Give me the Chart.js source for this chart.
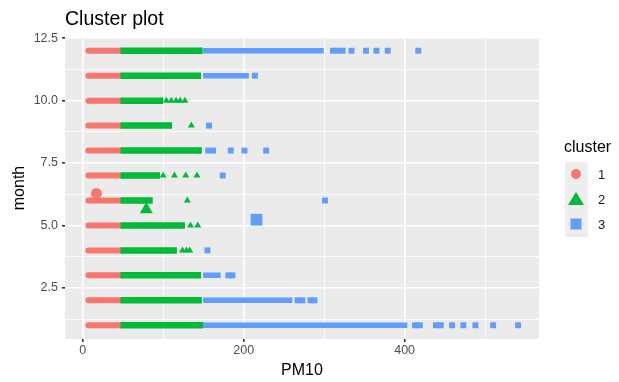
<!DOCTYPE html>
<html>
<head>
<meta charset="utf-8">
<title>Cluster plot</title>
<script src="https://cdn.jsdelivr.net/npm/chart.js@4/dist/chart.umd.min.js"></script>
<style>
  html, body { margin: 0; padding: 0; background: #ffffff; }
  #wrap { width: 619px; height: 382px; }
</style>
</head>
<body>
<div id="wrap"><canvas id="clusterChart" width="619" height="382"></canvas></div>
<script>
// values (PM10 per month)
const months     = [1, 2, 3, 4, 5, 6, 7, 8, 9, 10, 11, 12];
const redStart   = [7, 7, 7, 7, 7, 7, 7, 7, 7, 7, 7, 7];
const redEnd     = [46, 46, 46, 46, 46, 46, 46, 46, 46, 46, 46, 46];
const greenStart = [51, 51, 51, 51, 51, 51, 51, 51, 51, 51, 51, 51];
const greenEnd   = [146, 144, 143, 113, 123, 83, 92, 144, 107, 96, 143, 145];
const blueStart  = [153, 153, 153, null, null, null, null, null, null, null, 153, 153];
const blueEnd    = [400, 257, 168, null, null, null, null, null, null, null, 203, 296];
const greenOutliers = [
  [], [], [], [124, 129, 133], [134, 143], [130], [100, 114, 128, 142],
  [], [135], [104, 110, 116, 121, 127], [], []
];
const blueOutliers = [
  [413, 419, 439, 445, 459, 473, 488, 510, 541],
  [267, 273, 283, 288],
  [181, 186],
  [155],
  [],
  [301],
  [174],
  [156, 162, 184, 201, 228],
  [157],
  [],
  [214],
  [311, 317, 323, 334, 352, 365, 379, 417]
];
const centroidPM10  = [17, 79, 216];
const centroidMonth = [6.28, 5.64, 5.23];
const clusterNames  = ['1', '2', '3'];
const xTicks = [0, 100, 200, 300, 400, 500];
const yTicks = [1.25, 2.5, 3.75, 5, 6.25, 7.5, 8.75, 10, 11.25, 12.5];

const RED = '#F8766D', GREEN = '#00BA38', BLUE = '#619CFF';
const FONT = '"Liberation Sans", Arial, sans-serif';

function runData(starts, ends) {
  const pts = [];
  months.forEach(function(m, i) {
    if (starts[i] == null) return;
    pts.push({x: starts[i], y: m}, {x: ends[i], y: m}, {x: null, y: null});
  });
  return pts;
}

function pointData(lists) {
  const pts = [];
  months.forEach(function(m, i) {
    lists[i].forEach(function(v) { pts.push({x: v, y: m}); });
  });
  return pts;
}

const isMajorX = v => v % 200 === 0;
const isMajorY = v => Math.abs(v / 2.5 - Math.round(v / 2.5)) < 1e-9;

// grey panel behind the grid
const panelBg = {
  id: 'panelBg',
  beforeDraw(chart) {
    const a = chart.chartArea, ctx = chart.ctx;
    ctx.save();
    ctx.fillStyle = '#EBEBEB';
    ctx.fillRect(a.left, a.top, a.right - a.left, a.bottom - a.top);
    ctx.restore();
  }
};

// ggplot style title and legend
const ggExtras = {
  id: 'ggExtras',
  afterDraw(chart) {
    const ctx = chart.ctx;
    ctx.save();
    ctx.fillStyle = '#000000';
    ctx.textBaseline = 'alphabetic';
    ctx.textAlign = 'left';
    ctx.font = '19.5px ' + FONT;
    ctx.fillText('Cluster plot', 65, 25);

    ctx.font = '16px ' + FONT;
    ctx.fillText('cluster', 564, 152);

    const colors = [RED, GREEN, BLUE];
    const kx = 576, rows = [174, 199, 224];
    ctx.fillStyle = '#EDEDED';
    ctx.fillRect(565, 162, 23, 75);
    rows.forEach(function(y, i) {
      ctx.fillStyle = colors[i];
      ctx.beginPath();
      if (i === 0) {
        ctx.arc(kx, y, 5, 0, Math.PI * 2);
      } else if (i === 1) {
        ctx.moveTo(kx, y - 7);
        ctx.lineTo(kx + 8, y + 6);
        ctx.lineTo(kx - 8, y + 6);
        ctx.closePath();
      } else {
        ctx.rect(kx - 5.5, y - 5.5, 11, 11);
      }
      ctx.fill();
      ctx.fillStyle = '#1A1A1A';
      ctx.font = '13px ' + FONT;
      ctx.textBaseline = 'middle';
      ctx.fillText(clusterNames[i], 598, y + 1);
    });
    ctx.restore();
  }
};

const ctx = document.getElementById('clusterChart').getContext('2d');

const chart = new Chart(ctx, {
  type: 'scatter',
  data: {
    datasets: [
      { label: 'c1 run', data: runData(redStart, redEnd), showLine: true, spanGaps: false,
        borderColor: RED, borderWidth: 6, borderCapStyle: 'round', pointRadius: 0, order: 6 },
      { label: 'c2 run', data: runData(greenStart, greenEnd), showLine: true, spanGaps: false,
        borderColor: GREEN, borderWidth: 6.5, borderCapStyle: 'square', pointRadius: 0, order: 5 },
      { label: 'c3 run', data: runData(blueStart, blueEnd), showLine: true, spanGaps: false,
        borderColor: BLUE, borderWidth: 5.5, borderCapStyle: 'square', pointRadius: 0, order: 4 },
      { label: 'c2 points', data: pointData(greenOutliers), pointStyle: 'triangle',
        pointRadius: 4, backgroundColor: GREEN, borderWidth: 0, order: 3 },
      { label: 'c3 points', data: pointData(blueOutliers), pointStyle: 'rect',
        pointRadius: 4.2, backgroundColor: BLUE, borderWidth: 0, order: 2 },
      { label: 'centre 1', data: [{x: centroidPM10[0], y: centroidMonth[0]}], pointStyle: 'circle',
        pointRadius: 5.5, backgroundColor: RED, borderWidth: 0, order: 0 },
      { label: 'centre 2', data: [{x: centroidPM10[1], y: centroidMonth[1]}], pointStyle: 'triangle',
        pointRadius: 7.5, backgroundColor: GREEN, borderWidth: 0, order: 0 },
      { label: 'centre 3', data: [{x: centroidPM10[2], y: centroidMonth[2]}], pointStyle: 'rect',
        pointRadius: 8.3, backgroundColor: BLUE, borderWidth: 0, order: 0 }
    ]
  },
  options: {
    responsive: false,
    animation: false,
    events: [],
    layout: { padding: { top: 37, right: 80, left: 0, bottom: 0 } },
    plugins: {
      legend: { display: false },
      tooltip: { enabled: false },
      title: { display: false }
    },
    scales: {
      x: {
        type: 'linear',
        min: -22,
        max: 567,
        afterBuildTicks: s => { s.ticks = xTicks.map(v => ({value: v})); },
        afterFit: s => { s.height = 43; },
        ticks: {
          autoSkip: false,
          maxRotation: 0,
          padding: 1,
          color: '#4D4D4D',
          font: { family: FONT, size: 12.5 },
          callback: v => isMajorX(v) ? String(v) : ''
        },
        grid: {
          color: '#FFFFFF',
          lineWidth: c => isMajorX(c.tick.value) ? 1.6 : 0.8,
          tickColor: c => isMajorX(c.tick.value) ? '#333333' : 'rgba(0,0,0,0)',
          tickLength: 3
        },
        border: { display: false },
        title: {
          display: true,
          text: 'PM10',
          color: '#000000',
          font: { family: FONT, size: 16 },
          padding: { top: 0, bottom: 2 }
        }
      },
      y: {
        type: 'linear',
        min: 0.45,
        max: 12.55,
        afterBuildTicks: s => { s.ticks = yTicks.map(v => ({value: v})); },
        afterFit: s => { s.width = 65; },
        ticks: {
          autoSkip: false,
          padding: 4,
          color: '#4D4D4D',
          font: { family: FONT, size: 12.5 },
          callback: v => isMajorY(v) ? v.toFixed(1) : ''
        },
        grid: {
          color: '#FFFFFF',
          lineWidth: c => isMajorY(c.tick.value) ? 1.6 : 0.8,
          tickColor: c => isMajorY(c.tick.value) ? '#333333' : 'rgba(0,0,0,0)',
          tickLength: 3
        },
        border: { display: false },
        title: {
          display: true,
          text: 'month',
          color: '#000000',
          font: { family: FONT, size: 16 },
          padding: { top: 10, bottom: 0 }
        }
      }
    }
  },
  plugins: [panelBg, ggExtras]
});
</script>
</body>
</html>
